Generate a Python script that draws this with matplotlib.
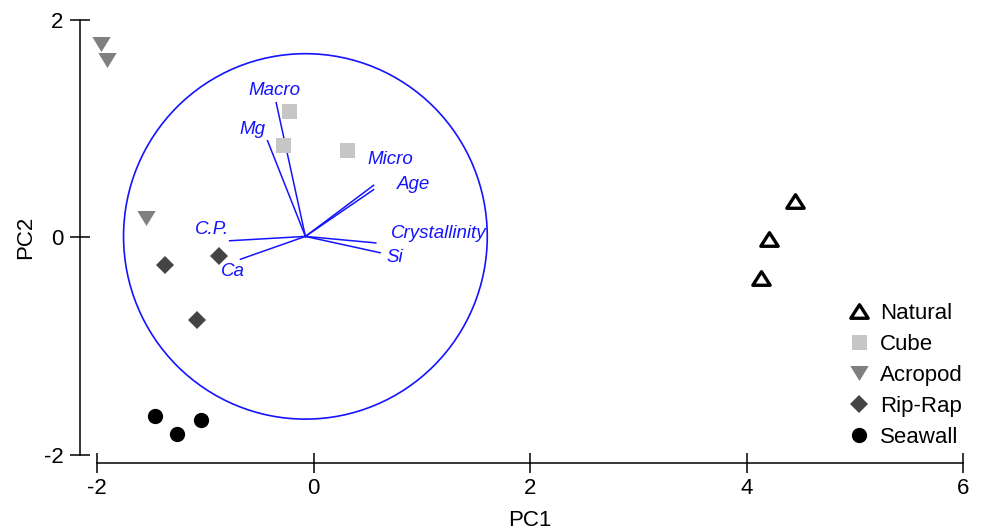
import matplotlib
matplotlib.use('agg')
import matplotlib.pyplot as plt
from matplotlib.patches import Ellipse
from matplotlib.markers import MarkerStyle
from matplotlib.path import Path

plt.rcParams['font.family'] = ['Liberation Sans', 'DejaVu Sans']
plt.rcParams['axes.unicode_minus'] = False

# site scores on PC1 / PC2
natural_pc1 = [4.45, 4.21, 4.13]
natural_pc2 = [0.34, -0.01, -0.37]
cube_pc1 = [-0.23, -0.28, 0.31]
cube_pc2 = [1.16, 0.85, 0.80]
acropod_pc1 = [-1.96, -1.91, -1.55]
acropod_pc2 = [1.78, 1.63, 0.18]
riprap_pc1 = [-1.37, -0.87, -1.08]
riprap_pc2 = [-0.25, -0.17, -0.76]
seawall_pc1 = [-1.46, -1.26, -1.04]
seawall_pc2 = [-1.64, -1.81, -1.68]

# variable loadings (relative to the circle centre)
variables = ['Macro', 'Mg', 'Micro', 'Age', 'Crystallinity', 'Si', 'C.P.', 'Ca']
load_pc1 = [-0.27, -0.35, 0.63, 0.63, 0.65, 0.69, -0.70, -0.60]
load_pc2 = [1.23, 0.88, 0.47, 0.43, -0.06, -0.15, -0.04, -0.21]

circle_center = (-0.075, 0.01)
circle_radius = 1.68

# where each variable name sits, offset from the centre
label_pos = {
    'Macro': (-0.29, 1.34),
    'Mg': (-0.49, 0.98),
    'Micro': (0.78, 0.71),
    'Age': (1.00, 0.48),
    'Crystallinity': (1.23, 0.03),
    'Si': (0.83, -0.19),
    'C.P.': (-0.86, 0.06),
    'Ca': (-0.67, -0.32),
}

fig = plt.figure(figsize=(9.81, 5.30), dpi=100)
ax = fig.add_axes([0.0989, 0.1415, 0.8828, 0.8208])

blue = '#1414ff'
cx, cy = circle_center
ax.add_patch(Ellipse(circle_center, 2 * circle_radius, 2 * circle_radius,
                     fill=False, edgecolor=blue, linewidth=1.2, zorder=1))
for name, lx, ly in zip(variables, load_pc1, load_pc2):
    ax.plot([cx, cx + lx], [cy, cy + ly], color=blue, linewidth=1.1, zorder=1)
    tx, ty = label_pos[name]
    ax.text(cx + tx, cy + ty, name, color=blue, fontsize=13.5, style='italic',
            ha='center', va='center', zorder=2)

# flattened triangles (wider than tall)
tri_up = MarkerStyle(Path([(-1, -0.78), (1, -0.78), (0, 0.78), (-1, -0.78)], closed=True),
                     joinstyle='miter')
tri_down = MarkerStyle(Path([(-1, 0.82), (1, 0.82), (0, -0.82), (-1, 0.82)], closed=True))

ax.plot(natural_pc1, natural_pc2, linestyle='none', marker=tri_up, markersize=12.5,
        markerfacecolor='white', markeredgecolor='black', markeredgewidth=2.4,
        label='Natural', zorder=3, clip_on=False)
ax.plot(cube_pc1, cube_pc2, linestyle='none', marker='s', markersize=10.8,
        color='#c6c6c6', markeredgewidth=0, label='Cube', zorder=3, clip_on=False)
ax.plot(acropod_pc1, acropod_pc2, linestyle='none', marker=tri_down, markersize=13.2,
        color='#808080', markeredgewidth=0, label='Acropod', zorder=3, clip_on=False)
ax.plot(riprap_pc1, riprap_pc2, linestyle='none', marker='D', markersize=9.3,
        color='#444444', markeredgewidth=0, label='Rip-Rap', zorder=3, clip_on=False)
ax.plot(seawall_pc1, seawall_pc2, linestyle='none', marker='o', markersize=11,
        color='black', markeredgewidth=0, label='Seawall', zorder=3, clip_on=False)

ax.set_xlim(-2, 6)
ax.set_ylim(-2, 2)
ax.set_xticks([-2, 0, 2, 4, 6])
ax.set_yticks([-2, 0, 2])

for side in ['top', 'right']:
    ax.spines[side].set_visible(False)
ax.spines['left'].set_position(('outward', 12.2))
ax.spines['bottom'].set_position(('outward', 5.8))
ax.spines['left'].set_bounds(-2, 2)
ax.spines['bottom'].set_bounds(-2, 6)
for side in ['left', 'bottom']:
    ax.spines[side].set_linewidth(1.1)

ax.tick_params(direction='inout', length=14, width=1.1, labelsize=16)
ax.tick_params(axis='x', pad=3.5)
ax.tick_params(axis='y', pad=5)

ax.set_xlabel('PC1', fontsize=16, labelpad=8)
ax.set_ylabel('PC2', fontsize=16, labelpad=5.5)

ax.legend(loc='upper left', bbox_to_anchor=(0.8644, 0.4283),
          bbox_transform=fig.transFigure, frameon=False, fontsize=16,
          numpoints=1, handlelength=1.0, handletextpad=0.44,
          labelspacing=0.45, borderpad=0, borderaxespad=0)

plt.savefig('out.png', dpi=100)
plt.close()
